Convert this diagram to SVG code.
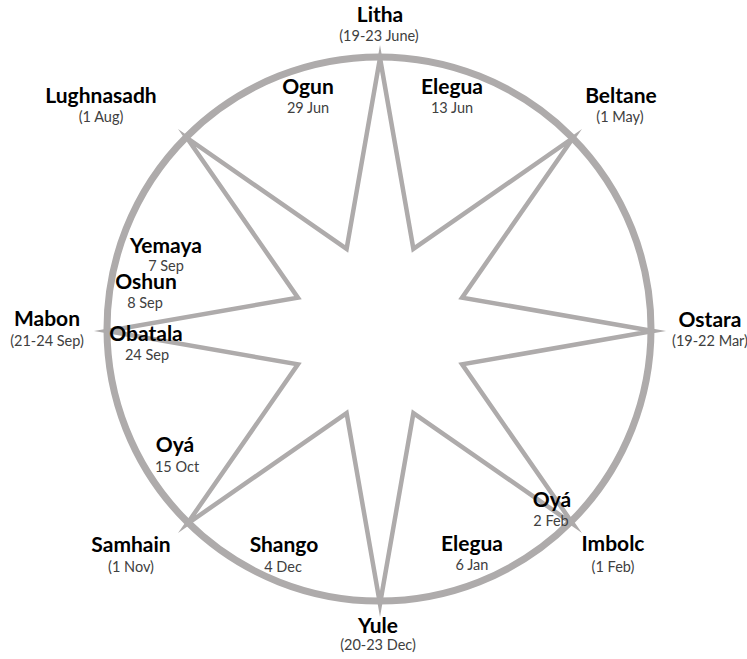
<svg xmlns="http://www.w3.org/2000/svg" width="747" height="659" viewBox="0 0 747 659">
<style>
.ring{fill:none;stroke:#AEABAB;stroke-width:7}
.star{fill:none;stroke:#AEABAB;stroke-width:4.5;stroke-linejoin:miter;stroke-miterlimit:10}
.t{font-family:Lato,"Open Sans",sans-serif;font-weight:bold;font-size:21px;fill:#000;text-anchor:middle}
.d{font-family:Lato,"Open Sans",sans-serif;font-size:14.5px;fill:#404040;text-anchor:middle}
</style>
<rect width="747" height="659" fill="#fff"/>
<g id="wheel">
<circle class="ring" cx="379" cy="329" r="272"/>
<polygon class="star" points="380,58 413.4,248.9 573.0,138.0 462.1,297.6 653,331 462.1,364.4 573.0,524.0 413.4,413.1 380,604 346.6,413.1 187.0,524.0 297.9,364.4 107,331 297.9,297.6 187.0,138.0 346.6,248.9"/>
</g>
<g id="connectors"></g>
<g id="litha"><text class="t" x="380" y="22">Litha</text><text class="d" x="379" y="41">(19-23 June)</text></g>
<g id="ogun"><text class="t" x="308" y="94">Ogun</text><text class="d" x="308" y="113">29 Jun</text></g>
<g id="elegua-jun"><text class="t" x="452" y="94">Elegua</text><text class="d" x="452" y="113">13 Jun</text></g>
<g id="lughnasadh"><text class="t" x="101" y="103">Lughnasadh</text><text class="d" x="101" y="122">(1 Aug)</text></g>
<g id="beltane"><text class="t" x="621" y="103">Beltane</text><text class="d" x="620" y="122">(1 May)</text></g>
<g id="yemaya"><text class="t" x="166" y="253">Yemaya</text><text class="d" x="166" y="271">7 Sep</text></g>
<g id="oshun"><text class="t" x="146" y="289">Oshun</text><text class="d" x="145" y="308">8 Sep</text></g>
<g id="mabon"><text class="t" x="47" y="326">Mabon</text><text class="d" x="47" y="346">(21-24 Sep)</text></g>
<g id="obatala"><text class="t" x="146" y="341">Obatala</text><text class="d" x="147" y="360">24 Sep</text></g>
<g id="ostara"><text class="t" x="710" y="327">Ostara</text><text class="d" x="710" y="346">(19-22 Mar)</text></g>
<g id="oya-oct"><text class="t" x="175" y="452">Oyá</text><text class="d" x="177" y="472">15 Oct</text></g>
<g id="oya-feb"><text class="t" x="552" y="507">Oyá</text><text class="d" x="551" y="526">2 Feb</text></g>
<g id="samhain"><text class="t" x="131" y="552">Samhain</text><text class="d" x="131" y="572">(1 Nov)</text></g>
<g id="shango"><text class="t" x="284" y="552">Shango</text><text class="d" x="283" y="572">4 Dec</text></g>
<g id="elegua-jan"><text class="t" x="472" y="551">Elegua</text><text class="d" x="472" y="570">6 Jan</text></g>
<g id="imbolc"><text class="t" x="613" y="551">Imbolc</text><text class="d" x="613" y="572">(1 Feb)</text></g>
<g id="yule"><text class="t" x="378" y="633">Yule</text><text class="d" x="378" y="650">(20-23 Dec)</text></g>
</svg>
